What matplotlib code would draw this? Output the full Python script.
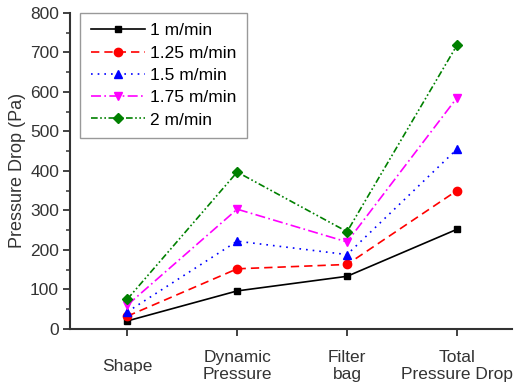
import numpy as np
import matplotlib.pyplot as plt
from matplotlib.ticker import MultipleLocator

plt.rcParams['font.family'] = ['Liberation Sans', 'DejaVu Sans']

categories = ["Shape", "Dynamic\nPressure", "Filter\nbag", "Total\nPressure Drop"]
speeds = ["1 m/min", "1.25 m/min", "1.5 m/min", "1.75 m/min", "2 m/min"]
v1 = [20, 96, 133, 252]
v125 = [32, 152, 163, 350]
v15 = [43, 222, 188, 455]
v175 = [60, 303, 220, 585]
v2 = [75, 397, 246, 718]

series = [v1, v125, v15, v175, v2]
colors = ["black", "red", "blue", "magenta", "green"]
markers = ["s", "o", "^", "v", "D"]
styles = ["-", (0, (5, 3)), (0, (1, 3)), (0, (6, 2, 1, 2)), (0, (4, 1.5, 1, 1.5, 1, 1.5))]
msizes = [5, 6, 6, 6, 5]

fig = plt.figure(figsize=(5.16, 3.91), dpi=100)
ax = fig.add_axes([0.136, 0.159, 0.856, 0.808])

x = np.arange(len(categories))
for vals, lab, c, m, ls, ms in zip(series, speeds, colors, markers, styles, msizes):
    ax.plot(x, vals, color=c, marker=m, linestyle=ls, linewidth=1.2,
            markersize=ms, label=lab)

ax.set_xlim(-0.52, 3.5)
ax.set_ylim(0, 800)
ax.yaxis.set_major_locator(MultipleLocator(100))
ax.yaxis.set_minor_locator(MultipleLocator(50))
ax.set_xticks(x)
ax.set_xticklabels(categories, fontsize=12.5, color="#333333", va="center",
                   linespacing=1.15)
ax.tick_params(axis="x", pad=22, length=5, width=1.3, color="#333333")
ax.tick_params(axis="y", which="major", length=5, width=1.3, color="#333333",
               labelsize=12.5, labelcolor="#333333", pad=3)
ax.tick_params(axis="y", which="minor", length=3, width=1.1, color="#333333")
ax.set_ylabel("Pressure Drop (Pa)", fontsize=13, color="#333333", labelpad=3)

for s in ["top", "right"]:
    ax.spines[s].set_visible(False)
for s in ["left", "bottom"]:
    ax.spines[s].set_linewidth(1.5)
    ax.spines[s].set_color("#333333")

leg = ax.legend(loc="upper left", bbox_to_anchor=(0.023, 1.0), fontsize=12.5,
                fancybox=False, edgecolor="#999999", framealpha=1,
                handlelength=3.1, labelspacing=0.41, borderpad=0.6,
                handletextpad=0.3, borderaxespad=0)
leg.get_frame().set_linewidth(1.0)

fig.savefig("out.png", dpi=100)
